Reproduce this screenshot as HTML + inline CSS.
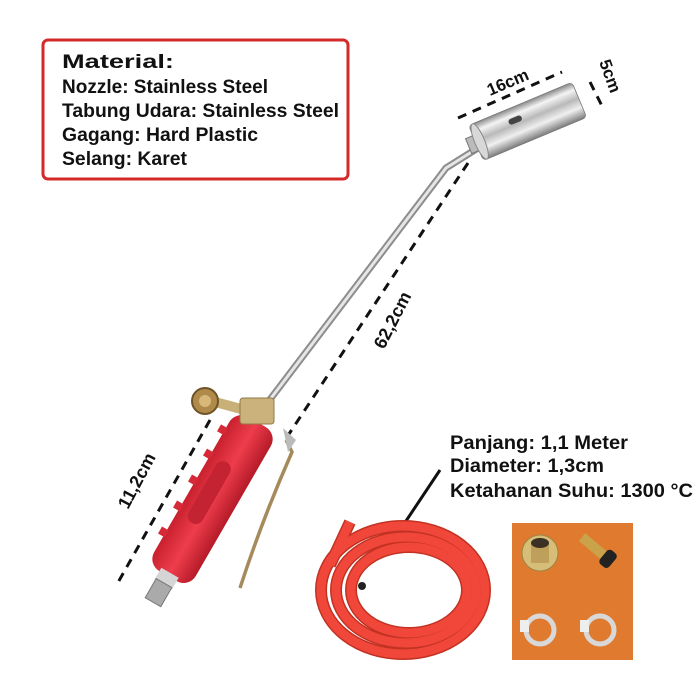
<!DOCTYPE html>
<html><head><meta charset="utf-8"><style>
html,body{margin:0;padding:0;background:#fff;}
svg{display:block}
text{font-family:"Liberation Sans Narrow","Liberation Sans",sans-serif;font-weight:bold;fill:#111}
</style></head><body>
<svg width="700" height="700" viewBox="0 0 700 700" xmlns="http://www.w3.org/2000/svg">
<defs>
<linearGradient id="steel" x1="0" y1="0" x2="0" y2="1">
<stop offset="0" stop-color="#8a8a8a"/><stop offset="0.2" stop-color="#f4f4f4"/><stop offset="0.45" stop-color="#b9b9b9"/><stop offset="0.7" stop-color="#f0f0f0"/><stop offset="1" stop-color="#7c7c7c"/>
</linearGradient>
<linearGradient id="red" x1="0" y1="0" x2="0" y2="1">
<stop offset="0" stop-color="#b51a28"/><stop offset="0.5" stop-color="#ee3d4c"/><stop offset="1" stop-color="#c8202e"/>
</linearGradient>
</defs>
<rect x="43" y="40" width="305" height="139" rx="5" fill="#fff" stroke="#d42a2a" stroke-width="3"/>
<text x="62" y="68" font-size="19" textLength="112" lengthAdjust="spacingAndGlyphs">Material:</text>
<text x="62" y="93" font-size="19" textLength="206" lengthAdjust="spacingAndGlyphs">Nozzle: Stainless Steel</text>
<text x="62" y="117" font-size="19" textLength="277" lengthAdjust="spacingAndGlyphs">Tabung Udara: Stainless Steel</text>
<text x="62" y="141" font-size="19" textLength="196" lengthAdjust="spacingAndGlyphs">Gagang: Hard Plastic</text>
<text x="62" y="165" font-size="19" textLength="125" lengthAdjust="spacingAndGlyphs">Selang: Karet</text>

<path d="M478 148 L446 168 L262 410" fill="none" stroke="#8d8d8d" stroke-width="7" stroke-linejoin="round"/>
<path d="M478 148 L446 168 L262 410" fill="none" stroke="#e6e6e6" stroke-width="3" stroke-linejoin="round"/>
<g transform="translate(476,143) rotate(-22.7)">
<rect x="-8" y="-8" width="12" height="16" fill="#bbb" stroke="#777"/>
<rect x="0" y="-19" width="112" height="38" rx="4" fill="url(#steel)" stroke="#777" stroke-width="0.8"/>
<ellipse cx="4" cy="0" rx="5" ry="19" fill="#d8d8d8" stroke="#888"/>
<rect x="38" y="-9" width="14" height="6" rx="3" fill="#444"/>
</g>
<g stroke="#111" stroke-width="3" stroke-dasharray="9 7" fill="none">
<line x1="458" y1="118" x2="562" y2="72"/>
<line x1="590" y1="82" x2="603" y2="108"/>
<line x1="468" y1="163" x2="285" y2="440"/>
<line x1="210" y1="420" x2="116" y2="586"/>
</g>
<text font-size="17" transform="translate(490,96) rotate(-23)">16cm</text>
<text font-size="17" transform="translate(599,62) rotate(70)">5cm</text>
<text font-size="18" transform="translate(384,350) rotate(-63)">62,2cm</text>
<text font-size="18" transform="translate(128,510) rotate(-62)">11,2cm</text>

<path d="M286 440 L292 452 Q262 520 240 588" fill="none" stroke="#a58a5c" stroke-width="3.5"/>
<path d="M283 428 L296 440 L288 452 Z" fill="#bbb"/>
<g transform="translate(257,422) rotate(120)">
<rect x="0" y="-24" width="178" height="48" rx="14" fill="url(#red)"/>
<rect x="50" y="-2" width="70" height="16" rx="8" fill="#c42332"/>
<rect x="20" y="22" width="8" height="8" fill="#d72a38"/>
<rect x="48" y="22" width="8" height="8" fill="#d72a38"/>
<rect x="78" y="22" width="8" height="8" fill="#d72a38"/>
<rect x="108" y="22" width="8" height="8" fill="#d72a38"/>
<rect x="138" y="22" width="8" height="8" fill="#d72a38"/>
<rect x="174" y="-10" width="14" height="20" fill="#d5d5d5"/>
<rect x="186" y="-9" width="22" height="18" fill="#aaa" stroke="#777"/>
</g>
<rect x="212" y="396" width="40" height="10" fill="#c9b078" transform="rotate(15 212 396)"/>
<circle cx="205" cy="401" r="13" fill="#b08a4a" stroke="#6e5428" stroke-width="2"/>
<circle cx="205" cy="401" r="6" fill="#d8b878"/>
<rect x="240" y="398" width="34" height="26" rx="3" fill="#cbb27c" stroke="#8f7a48"/>

<text x="450" y="449" font-size="19" textLength="178" lengthAdjust="spacingAndGlyphs">Panjang: 1,1 Meter</text>
<text x="450" y="472" font-size="19" textLength="154" lengthAdjust="spacingAndGlyphs">Diameter: 1,3cm</text>
<text x="450" y="497" font-size="19" textLength="243" lengthAdjust="spacingAndGlyphs">Ketahanan Suhu: 1300 °C</text>
<line x1="440" y1="470" x2="406" y2="521" stroke="#111" stroke-width="3"/>

<g fill="none" stroke="#c23222" stroke-width="12">
<ellipse cx="403" cy="590" rx="82" ry="64"/>
<ellipse cx="406" cy="590" rx="70" ry="53"/>
<ellipse cx="409" cy="590" rx="58" ry="43"/>
<path d="M330 565 L350 522"/>
</g>
<g fill="none" stroke="#f0473a" stroke-width="9">
<ellipse cx="403" cy="590" rx="82" ry="64"/>
<ellipse cx="406" cy="590" rx="70" ry="53"/>
<ellipse cx="409" cy="590" rx="58" ry="43"/>
<path d="M330 565 L350 522"/>
</g>
<circle cx="362" cy="586" r="4" fill="#222"/>

<rect x="512" y="523" width="121" height="137" fill="#e07a2e"/>
<circle cx="540" cy="553" r="18" fill="#d6be78" stroke="#9c8444"/>
<rect x="531" y="543" width="18" height="20" fill="#bfa05a"/>
<ellipse cx="540" cy="543" rx="9" ry="5" fill="#3a3024"/>
<g transform="translate(582,537) rotate(40)">
<rect x="0" y="-5" width="30" height="10" fill="#c9a24a"/>
<rect x="28" y="-9" width="12" height="18" rx="4" fill="#222"/>
</g>
<g fill="none" stroke="#d8d8d8" stroke-width="5">
<circle cx="540" cy="630" r="14"/>
<circle cx="600" cy="630" r="14"/>
</g>
<rect x="520" y="620" width="9" height="12" fill="#eee"/>
<rect x="580" y="620" width="9" height="12" fill="#eee"/>
</svg>
</body></html>
